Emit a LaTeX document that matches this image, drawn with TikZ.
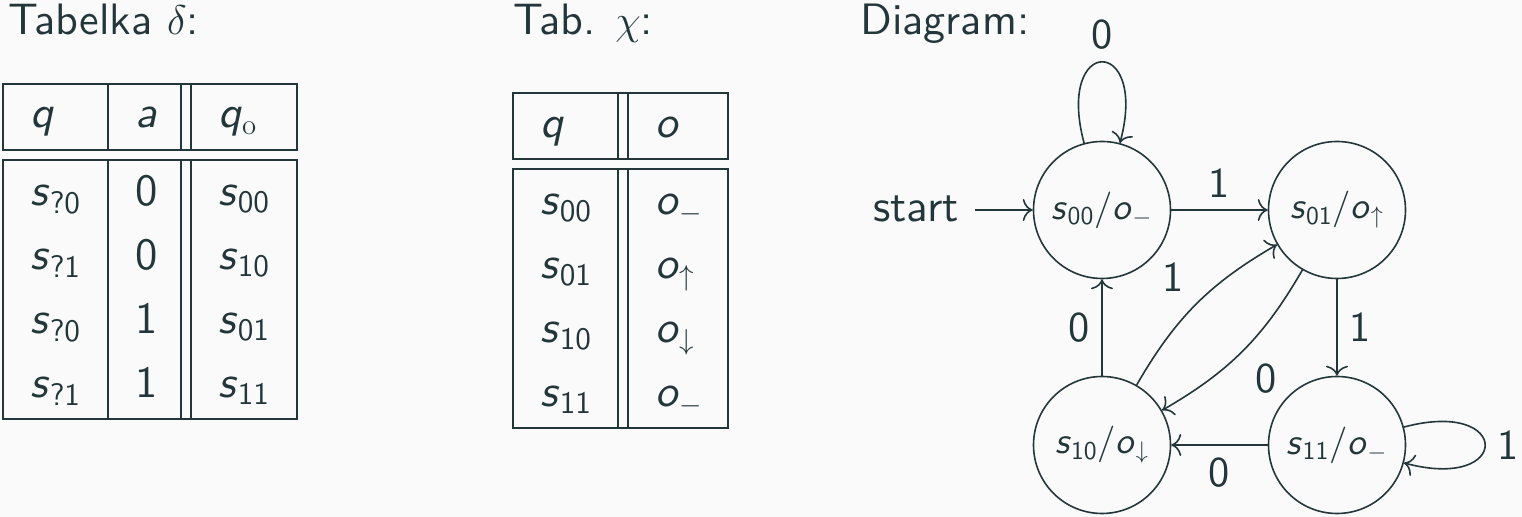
\documentclass[tikz,border=0pt]{standalone}
\usepackage{amsmath}
\usetikzlibrary{arrows.meta}
\DeclareFontFamily{TU}{lmssten}{}
\DeclareFontShape{TU}{lmssten}{m}{n}{<-> "[lmsans10-regular]:mapping=tex-text"}{}
\DeclareFontShape{TU}{lmssten}{m}{sl}{<-> "[lmsans10-oblique]:mapping=tex-text"}{}
\DeclareFontShape{TU}{lmssten}{m}{it}{<-> ssub * lmssten/m/sl}{}
\renewcommand{\sfdefault}{lmssten}
\definecolor{fg}{HTML}{23373B}
\definecolor{bg}{HTML}{FAFAFA}
\newcommand{\iv}[1]{\textit{#1}}
\newcommand{\sbs}[1]{\textsubscript{\upshape #1}}
\newcommand{\fsH}{\fontsize{22.0}{26}\selectfont}
\newcommand{\fsS}{\fontsize{22.5}{27}\selectfont}
\newcommand{\fsT}{\fontsize{22.3}{26}\selectfont}
\newcommand{\fsL}{\fontsize{21.2}{25}\selectfont}
\newcommand{\fsN}{\fontsize{18.3}{22}\selectfont}
\tikzset{
  tbl/.style={draw=fg, line width=1pt},
  cell/.style={anchor=base west, inner sep=0pt, font=\sffamily\fsT, text=fg},
  ttl/.style={anchor=base west, inner sep=0pt, font=\sffamily\fsH, text=fg},
  state/.style={circle, draw=fg, line width=0.8pt, minimum size=68.5pt, inner sep=0pt, font=\sffamily\fsN, text=fg},
  edge/.style={draw=fg, line width=0.8pt, -{To[length=5pt,width=11pt]}},
  lbl/.style={font=\sffamily\fsL, text=fg, inner sep=6pt},
}
\begin{document}
\begin{tikzpicture}[x=0.5pt,y=0.5pt]
\fill[bg] (0,0) rectangle (1522,-517);
\useasboundingbox (0,0) rectangle (1522,-517);

% titles
\node[ttl] (t1) at (8,-35) {Tabelka $\delta$:};
\node[ttl] (t2) at (513,-35) {Tab. $\chi$:};
\node[ttl] (t3) at (860,-35) {Diagram:};

% table 1
\draw[tbl] (3,-84) rectangle (297,-150);
\draw[tbl] (3,-160) rectangle (297,-419);
\foreach \x in {108,181,191} {
  \draw[tbl] (\x,-84) -- (\x,-150);
  \draw[tbl] (\x,-160) -- (\x,-419);
}
\node[cell] (h11) at (30,-128) {\iv{q}};
\node[cell] (h12) at (135,-128) {\iv{a}};
\node[cell] (h13) at (218,-128) {\iv{q}$_{\mathrm{o}}$};
\node[cell] (a11) at (30,-206) {\iv{s}\sbs{?0}};
\node[cell] (a12) at (135,-206) {0};
\node[cell] (a13) at (218,-206) {\iv{s}\sbs{00}};
\node[cell] (a21) at (30,-270) {\iv{s}\sbs{?1}};
\node[cell] (a22) at (135,-270) {0};
\node[cell] (a23) at (218,-270) {\iv{s}\sbs{10}};
\node[cell] (a31) at (30,-334) {\iv{s}\sbs{?0}};
\node[cell] (a32) at (135,-334) {1};
\node[cell] (a33) at (218,-334) {\iv{s}\sbs{01}};
\node[cell] (a41) at (30,-398) {\iv{s}\sbs{?1}};
\node[cell] (a42) at (135,-398) {1};
\node[cell] (a43) at (218,-398) {\iv{s}\sbs{11}};

% table 2
\draw[tbl] (513,-93) rectangle (728,-159);
\draw[tbl] (513,-169) rectangle (728,-428);
\foreach \x in {618,628} {
  \draw[tbl] (\x,-93) -- (\x,-159);
  \draw[tbl] (\x,-169) -- (\x,-428);
}
\node[cell] (h21) at (540,-138) {\iv{q}};
\node[cell] (h22) at (655,-138) {\iv{o}};
\node[cell] (b11) at (540,-215) {\iv{s}\sbs{00}};
\node[cell] (b12) at (655,-215) {\iv{o}$_-$};
\node[cell] (b21) at (540,-279) {\iv{s}\sbs{01}};
\node[cell] (b22) at (655,-279) {\iv{o}$_\uparrow$};
\node[cell] (b31) at (540,-343) {\iv{s}\sbs{10}};
\node[cell] (b32) at (655,-343) {\iv{o}$_\downarrow$};
\node[cell] (b41) at (540,-407) {\iv{s}\sbs{11}};
\node[cell] (b42) at (655,-407) {\iv{o}$_-$};

% diagram
\node[state] (s00) at (1102,-210) {\iv{s}\sbs{00}/\iv{o}$_-$};
\node[state] (s01) at (1337,-210) {\iv{s}\sbs{01}/\iv{o}$_\uparrow$};
\node[state] (s10) at (1102,-445) {\iv{s}\sbs{10}/\iv{o}$_\downarrow$};
\node[state] (s11) at (1337,-445) {\iv{s}\sbs{11}/\iv{o}$_-$};

\node[anchor=base west, inner sep=8pt, font=\sffamily\fsS, text=fg] (start) at (857,-222) {start};
\draw[edge] (start.east |- s00.west) -- (s00.west);

\draw[edge] (s00) -- node[lbl, above] {1} (s01);
\draw[edge] (s01) -- node[lbl, right] {1} (s11);
\draw[edge] (s11) -- node[lbl, below] {0} (s10);
\draw[edge] (s10) -- node[lbl, left] {0} (s00);
\draw[edge] (s10) to[bend left=15] node[lbl, above left] {1} (s01);
\draw[edge] (s01) to[bend left=15] node[lbl, below right] {0} (s10);
\draw[edge] (s00) to[out=105, in=75, looseness=8] node[lbl, above] {0} (s00);
\draw[edge] (s11) to[out=15, in=-15, looseness=8] node[lbl, right] {1} (s11);
\end{tikzpicture}
\end{document}
